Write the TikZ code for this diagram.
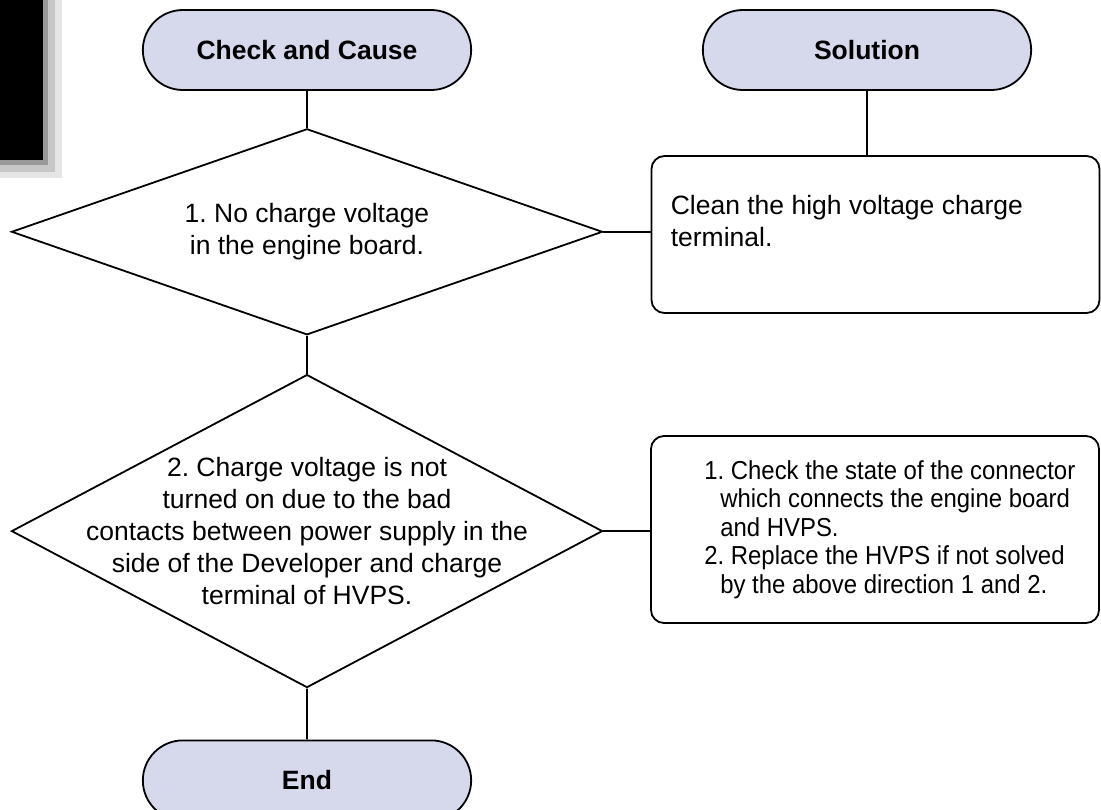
\documentclass[tikz,border=0pt]{standalone}
\usepackage{fontspec}
\setmainfont{Liberation Sans}
\newfontfamily\narrowfont[FakeStretch=0.92]{Liberation Sans}
\usepackage{xcolor}
\usepackage{tikz}
\usetikzlibrary{shapes,arrows.meta,positioning}
\definecolor{termfill}{RGB}{214,216,236}
\frenchspacing

\begin{document}
\begin{tikzpicture}[
    x=1pt, y=-1pt,
    node distance=37pt,
    terminal/.style={rounded rectangle, draw, fill=termfill, line width=1.8pt, minimum width=335pt, minimum height=80pt, font=\bfseries\fontsize{26.5}{32}\selectfont},
    decision/.style={diamond, draw, line width=1.8pt, minimum width=591pt, inner sep=0pt},
    remedy/.style={rectangle, draw, rounded corners=13pt, line width=1.8pt, minimum width=448pt},
    desc/.style={inner sep=0pt, align=center, font=\fontsize{26.5}{32}\selectfont},
    wire/.style={line width=1.8pt}
]
\useasboundingbox (0,0) rectangle (1101,810);
\clip (0,0) rectangle (1101,810);

% Page marker
\fill[black!10] (0,0) rectangle (62,178);
\fill[black!22] (0,0) rectangle (55,172);
\fill[black!40] (0,0) rectangle (48,165);
\fill[black] (0,0) rectangle (43,160);

% Headings
\node[terminal] (cause) at (307,50) {Check and Cause};
\node[terminal] (solution) at (867,50) {Solution};

% Checks
\node[decision, minimum height=206pt, below=of cause] (chk1) {};
\node[desc] (chk1text) at (chk1) {1. No charge voltage\\in the engine board.};
\node[decision, minimum height=313pt, below=38pt of chk1] (chk2) {};
\node[desc] (chk2text) at (chk2) {2. Charge voltage is not\\turned on due to the bad\\contacts between power supply in the\\side of the Developer and charge\\terminal of HVPS.};

% End
\node[terminal, below=51pt of chk2] (finish) {End};

% Solutions
\node[remedy, minimum height=157pt] (sol1) at (875.5,234.5) {};
\node[desc, align=left, below right=40pt and 20pt of sol1.north west] (sol1text) {Clean the high voltage charge\\terminal.};
\node[remedy, minimum height=187pt] (sol2) at (875,529.5) {};
\node[desc, align=left, right=54pt of sol2.west, font=\narrowfont\fontsize{26}{28.5}\selectfont] (sol2text) {1. Check the state of the connector\\\hspace*{16pt}which connects the engine board\\\hspace*{16pt}and HVPS.\\2. Replace the HVPS if not solved\\\hspace*{16pt}by the above direction 1 and 2.};

% Connectors
\draw[wire] (cause) -- (chk1);
\draw[wire] (chk1) -- (chk2);
\draw[wire] (chk2) -- (finish);
\draw[wire] (solution.south) -- (solution.south |- sol1.north);
\draw[wire] (chk1.east) -- (chk1.east -| sol1.west);
\draw[wire] (chk2.east) -- (chk2.east -| sol2.west);
\end{tikzpicture}
\end{document}
